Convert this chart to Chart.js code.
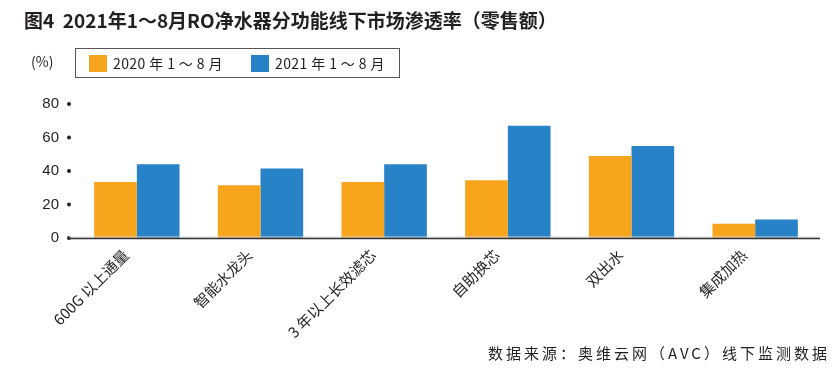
<!DOCTYPE html>
<html>
<head>
<meta charset="utf-8">
<script src="https://cdn.jsdelivr.net/npm/chart.js@4"></script>
<style>
  body { margin: 0; background: #fff; font-family: "Noto Sans CJK SC", "Noto Sans", sans-serif; color: #231f20; }
  #wrap { position: relative; width: 839px; height: 375px; overflow: hidden; }
  #chart { position: absolute; left: 0; top: 0; }
  .title { position: absolute; left: 24px; top: 6px; font-size: 19px; font-weight: bold; white-space: nowrap; }
  .unit { position: absolute; left: 31px; top: 51px; font-size: 14px; }
  .legend { position: absolute; left: 75px; top: 48px; width: 323px; height: 28px; border: 1px solid #555; }
  .legend .item { position: absolute; top: 5px; font-size: 14px; letter-spacing: 0.4px; white-space: nowrap; line-height: 18px; }
  .legend .sw { display: inline-block; width: 18px; height: 17px; vertical-align: -3px; margin-right: 6px; }
  .source { position: absolute; left: 488px; top: 342px; font-size: 15px; letter-spacing: 3px; white-space: nowrap; }
</style>
</head>
<body>
<div id="wrap">
  <canvas id="chart" width="839" height="375"></canvas>
  <div class="title">图4&nbsp;&nbsp;2021年1～8月RO净水器分功能线下市场渗透率（零售额）</div>
  <div class="unit">(%)</div>
  <div class="legend" id="legend"></div>
  <div class="source">数据来源：奥维云网（AVC）线下监测数据</div>
</div>
<script>
const categories = ["600G 以上通量", "智能水龙头", "3 年以上长效滤芯", "自助换芯", "双出水", "集成加热"];
const seriesNames = ["2020 年 1 ～ 8 月", "2021 年 1 ～ 8 月"];
const values2020 = [33.5, 31.5, 33.5, 34.5, 49, 8.5];
const values2021 = [44, 41.5, 44, 67, 55, 11];
const yTicks = [0, 20, 40, 60, 80];
const colors = ["#F7A51D", "#2882C7"];

// html legend in a box
const legend = document.getElementById("legend");
const legendLeft = [13, 175];
seriesNames.forEach((name, i) => {
  const el = document.createElement("div");
  el.className = "item";
  el.style.left = legendLeft[i] + "px";
  el.innerHTML = `<span class="sw" style="background:${colors[i]}"></span>${name}`;
  legend.appendChild(el);
});

// dots on y ticks and the extended base line
const axisDecor = {
  id: "axisDecor",
  afterDraw(chart) {
    const { ctx, chartArea, scales } = chart;
    const y0 = scales.y.getPixelForValue(0);
    ctx.save();
    ctx.fillStyle = "#222";
    yTicks.forEach(v => {
      ctx.beginPath();
      ctx.arc(chartArea.left - 6, scales.y.getPixelForValue(v), 2, 0, Math.PI * 2);
      ctx.fill();
    });
    ctx.strokeStyle = "#d8d8d8";
    ctx.lineWidth = 1;
    ctx.beginPath();
    ctx.moveTo(chartArea.left - 6, y0 - 1);
    ctx.lineTo(chartArea.right + 3, y0 - 1);
    ctx.stroke();
    ctx.strokeStyle = "#333";
    ctx.lineWidth = 1.5;
    ctx.beginPath();
    ctx.moveTo(chartArea.left - 6, y0 + 0.5);
    ctx.lineTo(chartArea.right + 3, y0 + 0.5);
    ctx.stroke();
    ctx.restore();
  }
};

new Chart(document.getElementById("chart"), {
  type: "bar",
  data: {
    labels: categories,
    datasets: [
      { label: seriesNames[0], data: values2020, backgroundColor: colors[0] },
      { label: seriesNames[1], data: values2021, backgroundColor: colors[1] }
    ]
  },
  options: {
    responsive: false,
    animation: false,
    layout: { padding: { left: 0, right: 22, top: 104, bottom: 0 } },
    plugins: { legend: { display: false }, tooltip: { enabled: false } },
    datasets: { bar: { barPercentage: 1, categoryPercentage: 0.69 } },
    scales: {
      x: {
        grid: { display: false, drawTicks: false },
        border: { display: false },
        ticks: {
          minRotation: 45, maxRotation: 45, padding: 8, labelOffset: -11,
          color: "#231f20",
          font: { size: 15, family: "Noto Sans CJK SC" }
        },
        afterFit: s => { s.height = 137; }
      },
      y: {
        min: 0, max: 80,
        grid: { display: false, drawTicks: false },
        border: { display: false },
        ticks: {
          stepSize: 20, padding: 16,
          color: "#231f20",
          font: { size: 15, family: "Liberation Sans" }
        },
        afterFit: s => { s.width = 75; }
      }
    }
  },
  plugins: [axisDecor]
});
</script>
</body>
</html>
